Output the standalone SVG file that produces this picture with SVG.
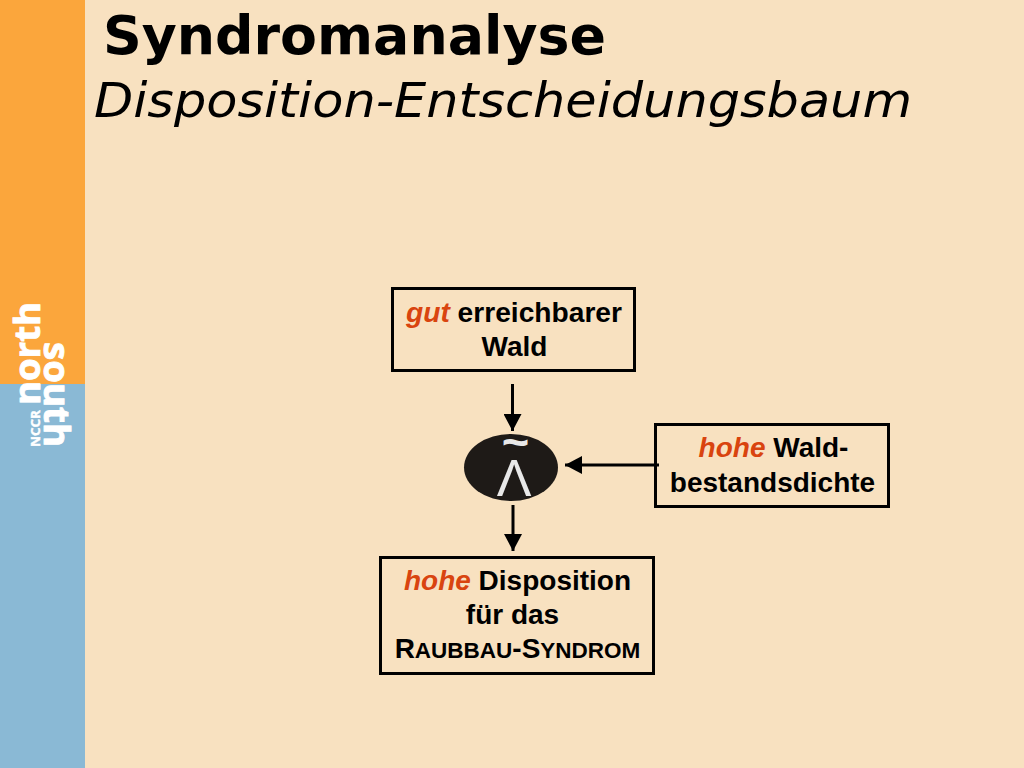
<svg xmlns="http://www.w3.org/2000/svg" width="1024" height="768" viewBox="0 0 1024 768">
<style>
.box{fill:none;stroke:#000;stroke-width:3}
.lbl{font-family:"Liberation Sans",Arial,sans-serif;font-size:28px;font-weight:bold;text-anchor:middle;fill:#000}
.em{font-style:italic;fill:#D9440F}
.conn{stroke:#000;stroke-width:3;fill:none}
.logo{font-family:"Open Sans","DejaVu Sans",sans-serif;font-weight:bold;fill:#fff;stroke:#fff;stroke-width:.9}
</style>
<defs><marker id="ah" markerUnits="userSpaceOnUse" markerWidth="18" markerHeight="18" refX="17" refY="9" orient="auto"><path d="M0 0L17 9L0 18Z" fill="#000"/></marker></defs>
<rect width="1024" height="768" fill="#F8E1C0"/>
<rect id="band-orange" width="85" height="384" fill="#FBA63C"/>
<rect id="band-blue" y="384" width="85" height="384" fill="#8AB9D5"/>
<g id="logo">
<text class="logo" transform="translate(40,405) rotate(-90)" font-size="35" textLength="103" lengthAdjust="spacingAndGlyphs">north</text>
<text class="logo" transform="translate(44,342) rotate(90)" font-size="35" textLength="105" lengthAdjust="spacingAndGlyphs">south</text>
<text class="logo" transform="translate(40,447) rotate(-90)" font-size="13" textLength="37" lengthAdjust="spacingAndGlyphs" style="stroke-width:.4">NCCR</text>
</g>
<g id="title">
<text x="103" y="54" font-family="'DejaVu Sans',sans-serif" font-size="53" font-weight="bold" textLength="503" lengthAdjust="spacingAndGlyphs">Syndromanalyse</text>
<text x="94" y="117" font-family="'DejaVu Sans',sans-serif" font-size="48" font-style="italic" textLength="818" lengthAdjust="spacingAndGlyphs">Disposition-Entscheidungsbaum</text>
</g>
<g id="connectors">
<line class="conn" x1="512.500" y1="384" x2="512.500" y2="431" marker-end="url(#ah)"/>
<line class="conn" x1="659" y1="465" x2="565" y2="465" marker-end="url(#ah)"/>
<line class="conn" x1="513" y1="505" x2="513" y2="551" marker-end="url(#ah)"/>
</g>
<g id="node-wald">
<rect class="box" x="392.500" y="288.500" width="242" height="82"/>
<text class="lbl" x="514" y="322" textLength="216" lengthAdjust="spacingAndGlyphs"><tspan class="em">gut</tspan> erreichbarer</text>
<text class="lbl" x="514.500" y="356">Wald</text>
</g>
<g id="node-operator">
<ellipse cx="511" cy="467.500" rx="47" ry="33.500" fill="#1E1A17"/>
<text font-family="'Liberation Sans',sans-serif" text-anchor="middle" fill="#E8E8E8"><tspan x="515.500" y="458" font-size="47" font-weight="bold">~</tspan><tspan x="514" y="496" font-size="52">Λ</tspan></text>
</g>
<g id="node-dichte">
<rect class="box" x="655.500" y="424.500" width="233" height="82"/>
<text class="lbl" x="773.500" y="457"><tspan class="em">hohe</tspan> Wald-</text>
<text class="lbl" x="772.500" y="492">bestandsdichte</text>
</g>
<g id="node-syndrom">
<rect class="box" x="380.500" y="557.500" width="273" height="116"/>
<text class="lbl" x="517.500" y="590"><tspan class="em">hohe</tspan> Disposition</text>
<text class="lbl" x="512.500" y="624">für das</text>
<text class="lbl" x="517.500" y="658">R<tspan font-size="22.500">AUBBAU</tspan>-S<tspan font-size="22.500">YNDROM</tspan></text>
</g>
</svg>
